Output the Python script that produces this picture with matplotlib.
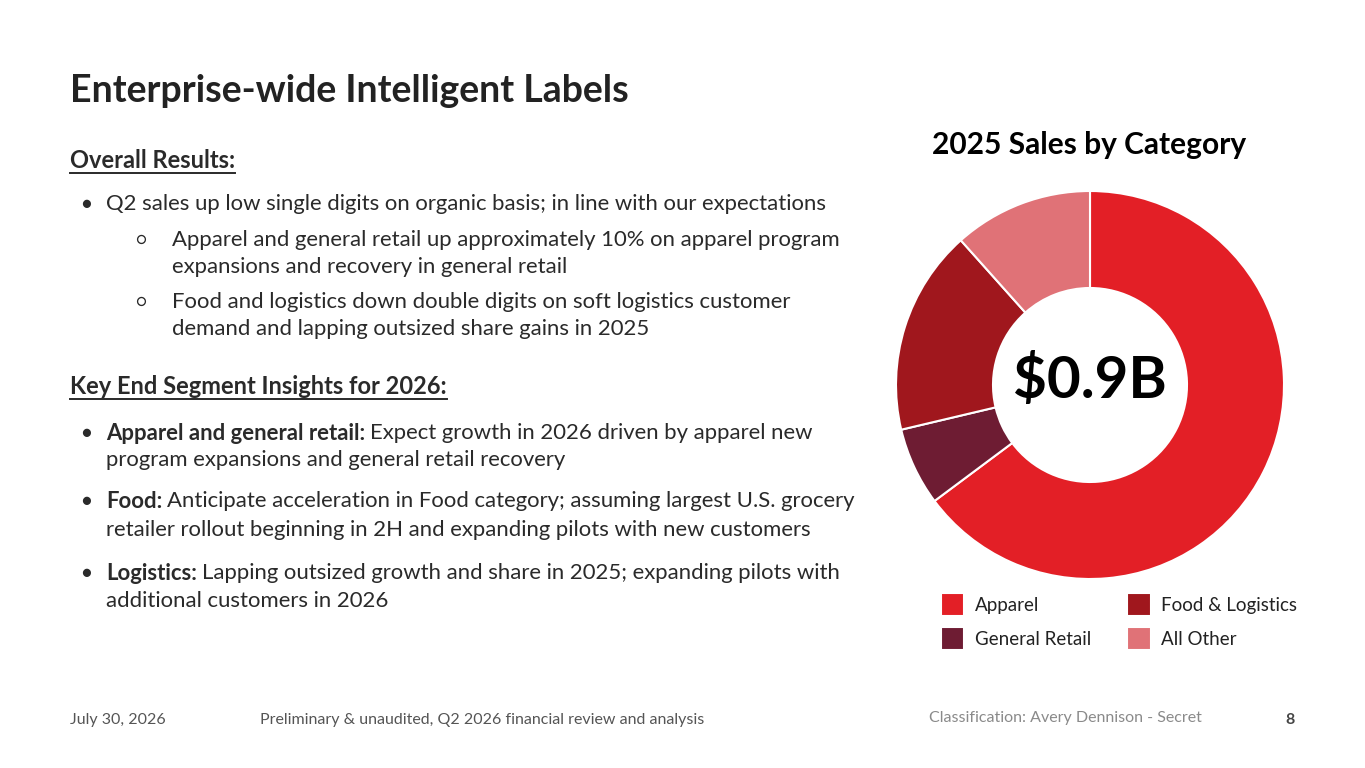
import matplotlib
matplotlib.use('Agg')
import matplotlib.pyplot as plt

# font setup (Nunito is not installed, Lato is the closest round-ish sans)
plt.rcParams['font.family'] = ['Lato', 'DejaVu Sans']

# data for the donut
categories = ['Apparel', 'General Retail', 'Food & Logistics', 'All Other']
sales_share = [64.8, 6.5, 17.1, 11.6]
colors = ['#E31F26', '#6E1C33', '#A0171D', '#E07277']
total_label = '$0.9B'

title = 'Enterprise-wide Intelligent Labels'
chart_title = '2025 Sales by Category'

W, H = 1365, 768
fig = plt.figure(figsize=(W / 100, H / 100), dpi=100)
fig.patch.set_facecolor('white')

# full page axes in pixel units for the text
bg = fig.add_axes([0, 0, 1, 1])
bg.set_xlim(0, W)
bg.set_ylim(H, 0)
bg.axis('off')

dark = '#222222'
body = '#2a2a2a'
fs = 15.9
fig.canvas.draw()
renderer = fig.canvas.get_renderer()


def right_edge(t):
    return t.get_window_extent(renderer).x1


def heading(x, y, s):
    t = bg.text(x, y, s, fontsize=17, fontweight='bold', color=body, va='center')
    bb = t.get_window_extent(renderer)
    bg.plot([bb.x0, bb.x1], [y + 12, y + 12], color=body, lw=1.4)


def lines(x, ys, parts):
    # parts: list of lines, each a (bold, regular) tuple
    for y, (b, r) in zip(ys, parts):
        xx = x
        if b:
            tb = bg.text(xx, y, b, fontsize=fs, fontweight='bold', color=body, va='center')
            xx = right_edge(tb) + 5
        bg.text(xx, y, r, fontsize=fs, color=body, va='center')


bg.text(70, 91, title, fontsize=27, fontweight='bold', color=dark, va='center')

heading(70, 161, 'Overall Results:')
bg.text(86, 204, '●', fontsize=12, color=body, va='center', ha='center')
lines(106, [204], [('', 'Q2 sales up low single digits on organic basis; in line with our expectations')])
bg.text(141, 240, '○', fontsize=12, color=body, va='center', ha='center')
lines(172, [240, 267], [('', 'Apparel and general retail up approximately 10% on apparel program'),
                        ('', 'expansions and recovery in general retail')])
bg.text(141, 302, '○', fontsize=12, color=body, va='center', ha='center')
lines(172, [302, 329], [('', 'Food and logistics down double digits on soft logistics customer'),
                        ('', 'demand and lapping outsized share gains in 2025')])

heading(70, 387, 'Key End Segment Insights for 2026:')
bullets = [
    ([433, 460], [('Apparel and general retail:', 'Expect growth in 2026 driven by apparel new'),
                  ('', 'program expansions and general retail recovery')]),
    ([501, 530], [('Food:', 'Anticipate acceleration in Food category; assuming largest U.S. grocery'),
                  ('', 'retailer rollout beginning in 2H and expanding pilots with new customers')]),
    ([573, 601], [('Logistics:', 'Lapping outsized growth and share in 2025; expanding pilots with'),
                  ('', 'additional customers in 2026')]),
]
for ys, parts in bullets:
    bg.text(86, ys[0], '●', fontsize=12, color=body, va='center', ha='center')
    lines(106, ys, parts)

# footer
bg.text(70, 720, 'July 30, 2026', fontsize=11.5, color='#555555', va='center')
bg.text(260, 720, 'Preliminary & unaudited, Q2 2026 financial review and analysis',
        fontsize=11.5, color='#555555', va='center')
bg.text(929, 718, 'Classification: Avery Dennison - Secret', fontsize=11.5, color='#8a8a8a', va='center')
bg.text(1290, 720, '8', fontsize=11.5, fontweight='bold', color='#444444', va='center', ha='center')

# chart title
bg.text(1089, 145, chart_title, fontsize=21.5, fontweight='bold', color='black', va='center', ha='center')

# donut chart
cx, cy, r = 1090, 385, 194
ax = fig.add_axes([(cx - r) / W, (H - cy - r) / H, 2 * r / W, 2 * r / H])
wedges, _ = ax.pie(sales_share, colors=colors, startangle=90, counterclock=False, radius=1,
                   wedgeprops=dict(width=0.5, edgecolor='white', linewidth=1.5))
ax.set_xlim(-1, 1)
ax.set_ylim(-1, 1)
ax.set_aspect('equal')
ax.text(0, 0.02, total_label, fontsize=42, fontweight='bold', color='black', ha='center', va='center')

# legend under the donut
fig.legend(wedges, categories, ncol=2, frameon=False, fontsize=13.5,
           loc='upper left', bbox_to_anchor=(924 / W, 1 - 576 / H),
           handlelength=1.25, handleheight=1.55, handletextpad=0.55,
           columnspacing=1.95, labelspacing=0.55, labelcolor='#222222')

plt.savefig('out.png', dpi=100)
